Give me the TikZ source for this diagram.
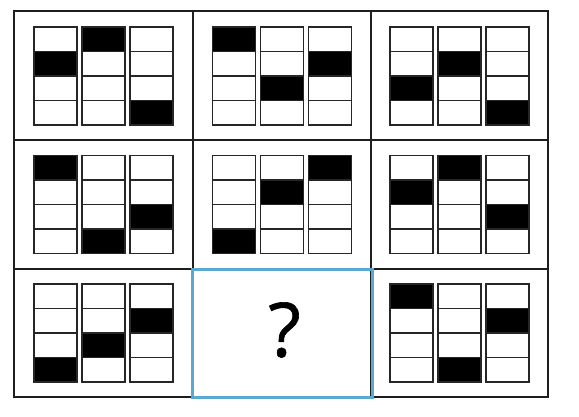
\documentclass[tikz,border=0pt]{standalone}
\usepackage{fontspec}
\setmainfont{Open Sans}
\newfontfamily\qfont[FakeBold=0.8]{Open Sans}
\definecolor{qblue}{RGB}{91,168,210}
\definecolor{gridc}{RGB}{30,30,30}
\begin{document}
\begin{tikzpicture}[x=1pt,y=-1pt,
  gridline/.style={line width=1.8pt,draw=gridc},
  barline/.style={line width=1.4pt,draw=black!85},
  qframe/.style={line width=3pt,draw=qblue},
  qmark/.style={inner sep=0pt,font=\qfont\fontsize{75}{75}\selectfont}]
\useasboundingbox (0,0) rectangle (579,416);
\fill[white] (0,0) rectangle (579,416);
\draw[gridline] (14,11) rectangle (548,397);
\draw[gridline] (193,11) -- (193,397) (371,11) -- (371,397)
  (14,140) -- (548,140) (14,269) -- (548,269);
\foreach \cx/\cy/\a/\b/\c in {103.5/76/2/1/4, 282/76/1/3/2, 459.5/76/3/2/4,
  103.5/204.5/1/4/3, 282/204.5/4/2/1, 459.5/204.5/2/1/3,
  103.5/333/4/3/2, 459.5/333/1/4/2}{
  \foreach \k/\r in {0/\a,1/\b,2/\c}{
    \pgfmathsetmacro\L{\cx-69.5+\k*48}
    \pgfmathsetmacro\T{\cy-49+(\r-1)*24.5}
    \fill[black] (\L,\T) rectangle ++(43,24.5);
    \draw[barline] (\L,\cy-49) rectangle ++(43,98);
    \foreach \j in {1,2,3} \draw[barline] (\L,\cy-49+\j*24.5) -- ++(43,0);
  }
}
\draw[qframe] (192,269) rectangle (372,397);
\node[qmark] (q) at (284.5,330) {?};
\end{tikzpicture}
\end{document}
